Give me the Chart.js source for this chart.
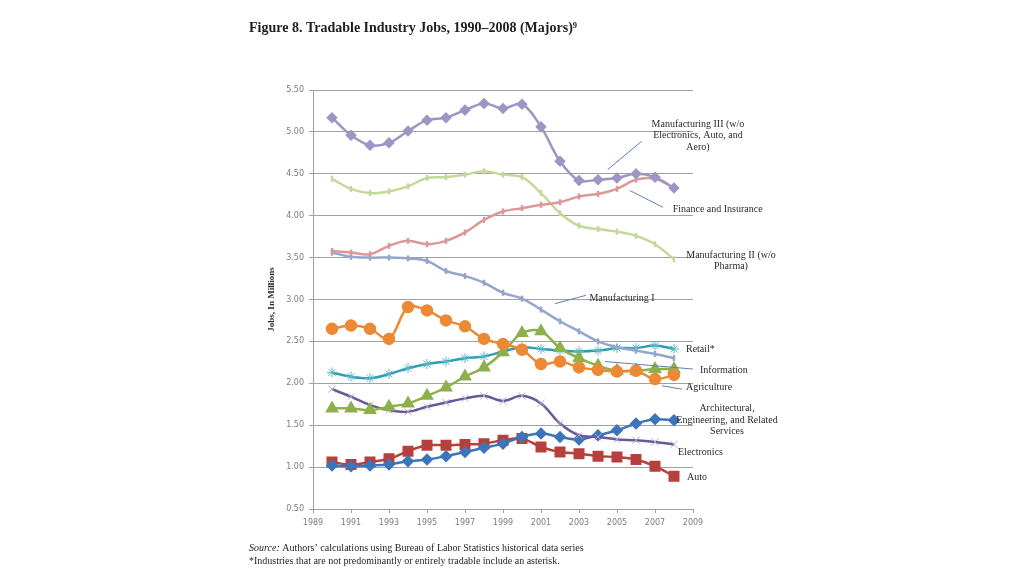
<!DOCTYPE html>
<html>
<head>
<meta charset="utf-8">
<script src="https://cdn.jsdelivr.net/npm/chart.js@4.4.1/dist/chart.umd.min.js"></script>
<style>
  html, body { margin: 0; padding: 0; background: #fff; }
  #wrap { width: 1024px; height: 576px; }
</style>
</head>
<body>
<div id="wrap"><canvas id="myChart"></canvas></div>
<script>
// jobs in millions, 1990-2008
const years = [1990, 1991, 1992, 1993, 1994, 1995, 1996, 1997, 1998, 1999, 2000, 2001, 2002, 2003, 2004, 2005, 2006, 2007, 2008];
const mfg3 = [5.17, 4.96, 4.84, 4.87, 5.01, 5.14, 5.17, 5.26, 5.34, 5.28, 5.33, 5.06, 4.65, 4.42, 4.43, 4.45, 4.50, 4.46, 4.33];
const mfg2 = [4.44, 4.32, 4.27, 4.29, 4.35, 4.45, 4.46, 4.49, 4.53, 4.49, 4.46, 4.27, 4.03, 3.88, 3.84, 3.81, 3.76, 3.66, 3.48];
const finance = [3.58, 3.56, 3.54, 3.64, 3.70, 3.66, 3.70, 3.80, 3.95, 4.05, 4.09, 4.13, 4.16, 4.23, 4.26, 4.32, 4.43, 4.44, 4.33];
const mfg1 = [3.56, 3.51, 3.50, 3.50, 3.49, 3.46, 3.34, 3.28, 3.20, 3.08, 3.01, 2.88, 2.74, 2.62, 2.50, 2.43, 2.39, 2.35, 2.30];
const agriculture = [2.65, 2.69, 2.65, 2.53, 2.91, 2.87, 2.75, 2.68, 2.53, 2.47, 2.40, 2.23, 2.26, 2.19, 2.16, 2.14, 2.15, 2.05, 2.10];
const information = [1.70, 1.70, 1.68, 1.72, 1.76, 1.85, 1.95, 2.08, 2.19, 2.37, 2.60, 2.62, 2.42, 2.30, 2.21, 2.15, 2.15, 2.17, 2.17];
const retail = [2.13, 2.08, 2.06, 2.11, 2.18, 2.23, 2.26, 2.30, 2.32, 2.38, 2.43, 2.41, 2.39, 2.38, 2.39, 2.42, 2.42, 2.45, 2.41];
const electronics = [1.93, 1.84, 1.74, 1.68, 1.66, 1.72, 1.77, 1.82, 1.85, 1.79, 1.85, 1.76, 1.52, 1.38, 1.36, 1.33, 1.32, 1.30, 1.27];
const architectural = [1.02, 1.01, 1.02, 1.03, 1.07, 1.09, 1.13, 1.18, 1.23, 1.28, 1.36, 1.40, 1.36, 1.33, 1.38, 1.44, 1.52, 1.57, 1.56];
const auto = [1.06, 1.03, 1.06, 1.10, 1.19, 1.26, 1.26, 1.27, 1.28, 1.32, 1.34, 1.24, 1.18, 1.16, 1.13, 1.12, 1.09, 1.01, 0.89];

const yTicks = [0.5, 1, 1.5, 2, 2.5, 3, 3.5, 4, 4.5, 5, 5.5];
const xTicks = [1989, 1991, 1993, 1995, 1997, 1999, 2001, 2003, 2005, 2007, 2009];

const titleText = 'Figure 8. Tradable Industry Jobs, 1990\u20132008 (Majors)\u2079';
const sourceNote = 'Authors\u2019 calculations using Bureau of Labor Statistics historical data series';
const asteriskNote = '*Industries that are not predominantly or entirely tradable include an asterisk.';

// series labels next to the lines (year, value of first line)
const notes = [
  { lines: ['Manufacturing III (w/o', 'Electronics, Auto, and', 'Aero)'], x: 2009.26, y: 5.09, align: 'center' },
  { lines: ['Finance and Insurance'], x: 2007.93, y: 4.07, align: 'left' },
  { lines: ['Manufacturing II (w/o', 'Pharma)'], x: 2011.0, y: 3.53, align: 'center' },
  { lines: ['Manufacturing I'], x: 2003.55, y: 3.01, align: 'left' },
  { lines: ['Retail*'], x: 2008.63, y: 2.40, align: 'left' },
  { lines: ['Information'], x: 2009.37, y: 2.16, align: 'left' },
  { lines: ['Agriculture'], x: 2008.63, y: 1.95, align: 'left' },
  { lines: ['Architectural,', 'Engineering, and Related', 'Services'], x: 2010.79, y: 1.70, align: 'center' },
  { lines: ['Electronics'], x: 2008.21, y: 1.18, align: 'left' },
  { lines: ['Auto'], x: 2008.68, y: 0.88, align: 'left' }
];
const leaders = [
  [2004.51, 4.55, 2006.3, 4.89],
  [2005.68, 4.30, 2007.42, 4.10],
  [2001.74, 2.95, 2003.37, 3.05],
  [2004.37, 2.26, 2009.0, 2.17],
  [2007.37, 1.97, 2008.42, 1.93]
];

function series(label, values, color, style, radius, extra) {
  return Object.assign({
    label: label,
    data: years.map((y, i) => ({ x: y, y: values[i] })),
    borderColor: color,
    backgroundColor: color,
    pointBackgroundColor: color,
    pointBorderColor: color,
    pointStyle: style,
    pointRadius: radius,
    borderWidth: 2.5,
    tension: 0.35
  }, extra || {});
}

const notesPlugin = {
  id: 'notes',
  afterDraw(chart) {
    const ctx = chart.ctx;
    const xs = chart.scales.x, ys = chart.scales.y;
    ctx.save();
    ctx.strokeStyle = '#5d80b0';
    ctx.lineWidth = 1;
    leaders.forEach(l => {
      ctx.beginPath();
      ctx.moveTo(xs.getPixelForValue(l[0]), ys.getPixelForValue(l[1]));
      ctx.lineTo(xs.getPixelForValue(l[2]), ys.getPixelForValue(l[3]));
      ctx.stroke();
    });
    ctx.fillStyle = '#2b2b2b';
    ctx.font = '10px "Liberation Serif"';
    ctx.textBaseline = 'middle';
    notes.forEach(n => {
      ctx.textAlign = n.align;
      const px = xs.getPixelForValue(n.x);
      const py = ys.getPixelForValue(n.y);
      n.lines.forEach((t, i) => ctx.fillText(t, px, py + i * 11.5));
    });

    // title and footnotes
    ctx.textAlign = 'left';
    ctx.fillStyle = '#1e1e1e';
    ctx.font = 'bold 14px "Liberation Serif"';
    ctx.fillText(titleText, 249, 28);
    ctx.font = 'italic 10px "Liberation Serif"';
    ctx.fillText('Source:', 249, 548);
    const w = ctx.measureText('Source: ').width;
    ctx.font = '10px "Liberation Serif"';
    ctx.fillText(sourceNote, 249 + w, 548);
    ctx.fillText(asteriskNote, 249, 561);
    ctx.restore();
  }
};

const ctx = document.getElementById('myChart');

new Chart(ctx, {
  type: 'line',
  data: {
    datasets: [
      series('Manufacturing III (w/o Electronics, Auto, and Aero)', mfg3, '#9d96c4', 'rectRot', 4),
      series('Finance and Insurance', finance, '#dc9896', 'line', 3, { pointRotation: 90 }),
      series('Manufacturing II (w/o Pharma)', mfg2, '#c5d89c', 'line', 3, { pointRotation: 90 }),
      series('Manufacturing I', mfg1, '#93a6cc', 'line', 3, { pointRotation: 90 }),
      series('Agriculture', agriculture, '#ec8935', 'circle', 5),
      series('Information', information, '#8db04c', 'triangle', 5.5),
      series('Retail*', retail, '#2f9fb0', 'star', 5, { pointBorderColor: '#5ab8c8', pointBorderWidth: 1 }),
      series('Electronics', electronics, '#6a5897', 'crossRot', 5, { pointBorderColor: '#b2a7d2', pointBorderWidth: 1 }),
      series('Architectural, Engineering, and Related Services', architectural, '#3d75ba', 'rectRot', 4.5),
      series('Auto', auto, '#b6403d', 'rect', 6)
    ]
  },
  options: {
    responsive: true,
    maintainAspectRatio: false,
    animation: false,
    layout: { padding: { left: 263, right: 331, top: 90, bottom: 37 } },
    plugins: {
      legend: { display: false },
      tooltip: { enabled: false }
    },
    scales: {
      x: {
        type: 'linear',
        min: 1989,
        max: 2009,
        afterFit: s => { s.height = 30; },
        afterBuildTicks: s => { s.ticks = xTicks.map(v => ({ value: v })); },
        ticks: {
          callback: v => String(v),
          color: '#7a7a7a',
          font: { family: 'DejaVu Sans', size: 8 },
          maxRotation: 0,
          padding: 5
        },
        grid: { drawOnChartArea: false, drawTicks: true, tickLength: 4, color: '#a0a0a0' },
        border: { color: '#a0a0a0' }
      },
      y: {
        min: 0.5,
        max: 5.5,
        afterFit: s => { s.width = 50; },
        afterBuildTicks: s => { s.ticks = yTicks.map(v => ({ value: v })); },
        ticks: {
          callback: v => v.toFixed(2),
          color: '#7a7a7a',
          font: { family: 'DejaVu Sans', size: 8 },
          padding: 5
        },
        title: {
          display: true,
          text: 'Jobs, In Millions',
          color: '#2b2b2b',
          font: { family: 'Liberation Serif', size: 9, weight: 'bold' },
          padding: { top: 3, bottom: 0 }
        },
        grid: { color: '#a0a0a0', tickLength: 4 },
        border: { color: '#a0a0a0' }
      }
    }
  },
  plugins: [notesPlugin]
});
</script>
</body>
</html>
